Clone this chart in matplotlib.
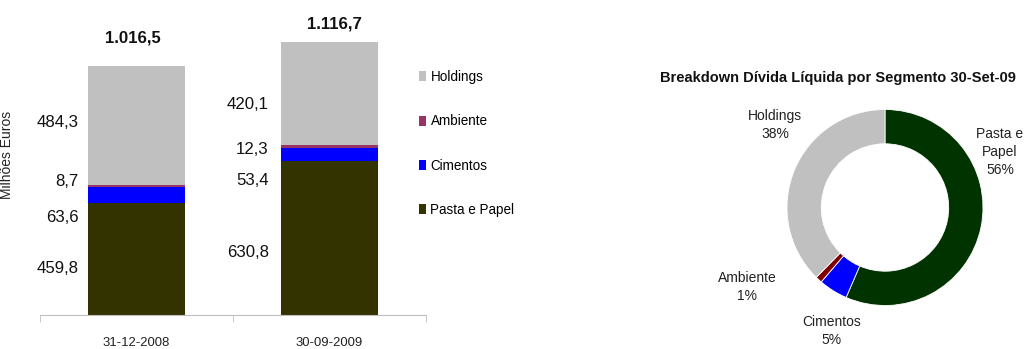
import matplotlib
matplotlib.use("Agg")
import matplotlib.pyplot as plt
from matplotlib import font_manager
from matplotlib.patches import Patch

# ---------------- data ----------------
dates = ["31-12-2008", "30-09-2009"]
segments = ["Pasta e Papel", "Cimentos", "Ambiente", "Holdings"]
pasta_papel = [459.8, 630.8]
cimentos = [63.6, 53.4]
ambiente = [8.7, 12.3]
holdings = [484.3, 420.1]
totals = [1016.5, 1116.7]
total_labels = ["1.016,5", "1.116,7"]

pie_segments = ["Pasta e\nPapel", "Cimentos", "Ambiente", "Holdings"]
pie_values = [630.8, 53.4, 12.3, 420.1]

# ---------------- styles ----------------
bar_colors = ["#333300", "#0000FF", "#993366", "#C0C0C0"]
pie_colors = ["#003300", "#0000FF", "#800000", "#C0C0C0"]

def has_font(name):
    try:
        font_manager.findfont(font_manager.FontProperties(family=name),
                              fallback_to_default=False)
        return True
    except Exception:
        return False

NARROW = "Liberation Sans Narrow" if has_font("Liberation Sans Narrow") else "Liberation Sans"
narrow_scale = 1.0 if NARROW == "Liberation Sans Narrow" else 0.9
plt.rcParams["font.family"] = ["Liberation Sans", "DejaVu Sans"]

W, H = 1024, 349
fig = plt.figure(figsize=(W / 100, H / 100), dpi=100)

def px_rect(x0, y0, x1, y1):
    return [x0 / W, 1 - y1 / H, (x1 - x0) / W, (y1 - y0) / H]

# ---------------- stacked bars ----------------
ax = fig.add_axes(px_rect(40, 0, 426, 315))
x = list(range(len(dates)))
bw = 0.5
series = [pasta_papel, cimentos, ambiente, holdings]
bottom = [0.0] * len(dates)
for name, vals, col in zip(segments, series, bar_colors):
    ax.bar(x, vals, bw, bottom=bottom, color=col, label=name, linewidth=0)
    bottom = [b + v for b, v in zip(bottom, vals)]

ax.set_xlim(-0.5, 1.5)
ax.set_ylim(0, 315 / 0.2445)
for s in ["top", "right", "left"]:
    ax.spines[s].set_visible(False)
ax.spines["bottom"].set_color("#BFBFBF")
ax.set_yticks([])
ax.set_xticks(x)
ax.set_xticklabels(dates, fontsize=10.5 * narrow_scale, family=NARROW, color="#222222")
ax.tick_params(axis="x", which="major", length=0, pad=15.5)
ax.set_xticks([-0.5, 0.5, 1.5], minor=True)
ax.tick_params(axis="x", which="minor", length=5, color="#BFBFBF", direction="out")

# value labels (positions in data units, to the left of each bar)
label_y = [[192, 397, 544, 789], [254, 552, 675, 859]]
label_dx = [0.05, 0.065]
for i in x:
    for j, vals in enumerate(series):
        txt = f"{vals[i]:.1f}".replace(".", ",")
        ax.text(i - bw / 2 - label_dx[i], label_y[i][j], txt, ha="right", va="center",
                fontsize=13.4 * narrow_scale, family=NARROW, color="#111111")

total_dy = [115, 74]
total_dx = [-0.02, 0.025]
for i in x:
    ax.text(i + total_dx[i], totals[i] + total_dy[i], total_labels[i], ha="center", va="center",
            fontsize=13.4 * narrow_scale, family=NARROW, fontweight="bold", color="#111111")

handles = [Patch(facecolor=c, edgecolor="none") for c in bar_colors][::-1]
leg = ax.legend(handles, segments[::-1], loc="upper left",
                bbox_to_anchor=(419 / W, 1 - 70 / H), bbox_transform=fig.transFigure,
                frameon=False, borderpad=0, borderaxespad=0,
                prop={"family": NARROW, "size": 10.8 * narrow_scale},
                labelspacing=2.25, handlelength=0.55, handleheight=0.75, handletextpad=0.3)

fig.text(7 / W, 1 - 155 / H, "Milhões Euros", rotation=90, ha="center", va="center",
         fontsize=10, color="#222222")

# ---------------- donut ----------------
cx, cy, R = 885, 207.5, 98
pax = fig.add_axes(px_rect(cx - 100, cy - 100, cx + 100, cy + 100))
pax.pie(pie_values, colors=pie_colors, startangle=90, counterclock=False,
        radius=1.0, wedgeprops=dict(width=0.35, edgecolor="white", linewidth=0.6))
lim = 100 / R
pax.set_xlim(-lim, lim)
pax.set_ylim(-lim, lim)
pax.set_aspect("equal")
pax.axis("off")

total_pie = sum(pie_values)
pie_label_px = [(1000, 152), (832, 331), (747, 287), (775, 125)]
for name, v, (lx, ly) in zip(pie_segments, pie_values, pie_label_px):
    pct = f"{round(100 * v / total_pie):d}%"
    pax.text((lx - cx) / R, (cy - ly) / R, f"{name}\n{pct}", ha="center", va="center",
             fontsize=10, linespacing=1.4, color="#222222")

fig.text(837.5 / W, 1 - 78 / H, "Breakdown Dívida Líquida por Segmento 30-Set-09",
         ha="center", va="center", fontsize=10.5, fontweight="bold", color="#111111")

fig.savefig("out.png", dpi=100)
